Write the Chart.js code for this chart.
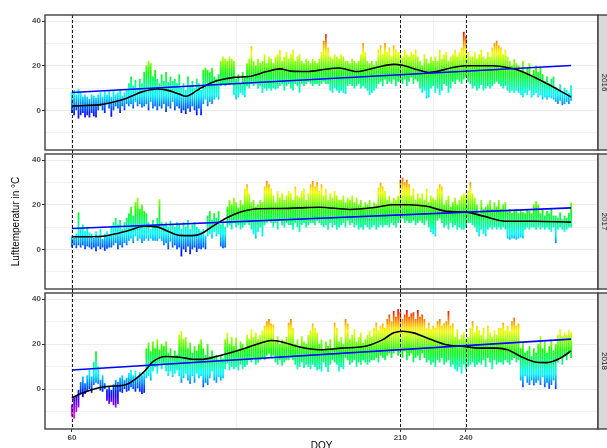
<!DOCTYPE html>
<html><head><meta charset="utf-8">
<script src="https://cdn.jsdelivr.net/npm/chart.js@4"></script>
<style>
html,body{margin:0;padding:0;width:607px;height:448px;overflow:hidden;background:#fff;}
canvas.p{position:absolute;left:0;}
</style></head><body>
<canvas id="c1" class="p" width="607" height="160" style="top:0px;width:607px;height:160px"></canvas>
<canvas id="c2" class="p" width="607" height="155" style="top:144px;width:607px;height:155px"></canvas>
<canvas id="c3" class="p" width="607" height="169" style="top:283px;width:607px;height:169px"></canvas>
<script>
// ---- categories: day of year ----
const doy = [60,61,62,63,64,65,66,67,68,69,70,71,72,73,74,75,76,77,78,79,80,81,82,83,84,85,86,87,88,89,90,91,92,93,94,95,96,97,98,99,100,101,102,103,104,105,106,107,108,109,110,111,112,113,114,115,116,117,118,119,120,121,122,123,124,125,126,127,128,129,130,131,132,133,134,135,136,137,138,139,140,141,142,143,144,145,146,147,148,149,150,151,152,153,154,155,156,157,158,159,160,161,162,163,164,165,166,167,168,169,170,171,172,173,174,175,176,177,178,179,180,181,182,183,184,185,186,187,188,189,190,191,192,193,194,195,196,197,198,199,200,201,202,203,204,205,206,207,208,209,210,211,212,213,214,215,216,217,218,219,220,221,222,223,224,225,226,227,228,229,230,231,232,233,234,235,236,237,238,239,240,241,242,243,244,245,246,247,248,249,250,251,252,253,254,255,256,257,258,259,260,261,262,263,264,265,266,267,268,269,270,271,272,273,274,275,276,277,278,279,280,281,282,283,284,285,286,287,288];

// ---- 2016 daily range (°C) ----
const tmax2016 = [8,9,7,9.5,8,6,7, 6,5,7,6.5,5.5,7, 8,6,9,7,8.5,6,9,7,8,9.5,6.5,8,9, 12,15,11,13.5,10,14,12, 17,20,22,21,15,18, 14,12,16,13,17,12.5,15,13,14,12,16, 10,12,9,15,11,13,10,14,12, 9,18,19, 18,17,19, 15,14,16, 22,24,23,22,24,23,22, 14,16,12,17,15, 21,23,28.5,22,20,23,21, 22,25,21,24,23,21,24, 25,27,22,24,26,23,25,27,22,24,25, 22,21,23,22,21,23,22,21,23, 26,31,34,28, 24,23,25,24,23,25,24,22, 22,21,23,22,21,22, 25,30,26, 22,21,22,20,22, 27,29,25,30,26,28,24,29,27,26, 26,24,27,25,24,26,25,27,24, 22,20,25,23,21,24,22, 24,22,27,23,25,26,22,24, 25,27,24,26,28, 35,33,26,24, 24,26,23,25,27,24,23,26,24, 28,30,31,29,28,25,27, 24,22,20,23,21, 20,18,22,17,19,21,16,18,20,17,19, 16,13,15,12,14,15, 10,9,11.5,8,10,9,7.7,11];
const tmin2016 = [-1,-2,0,-3.5,-2,-1,-3, -2,-3,-1,-2.5,-3,0, 2,0,-1,3,1,-2.7,0,2,1,-1,2,0,3, 2,3,1,4,2,3,1.5, 2,3,0,4,1,2, 0,2,1,3,-0.5,2,1,4,0,2,1, -1,0,-1.5,1,-0.5,2,0,-2,1, -2,3,5, 2,4,3, 5,6,5, 11,12,11,12,11.5,12,7, 5,6,8,7,6, 11,10,12,11,12,10,11, 8,10,9,10,9,10,9.5, 10,11,12,9,11,12,10,9,12,11,8, 12,11,12,13,12,11,12,12,11, 12,13,12,12, 9,8,10,9,8,9,8,7.5, 11,12,11,10,11,12, 10,11,10, 9,7,8,9,10, 12,13,11,14,12,13,12,14,11,13, 13,12,14,11,13,15,12,14,13, 10,8,9,5.5,6,10,11, 8,10,7,9,12,11,8,10, 13,12,14,13,12, 14,15,13,12, 10,11,9,10,11.5,9,10,11,10, 11,12,13,12,11,10,11, 9,8,9,8,9, 8,7,6,8,7,9,6,7,8,6,7, 5,6,5,6,5.5,5, 4,3,4.5,2.5,3,4,3,4.5];

// ---- 2017 daily range (°C) ----
const tmax2017 = [6,5,7, 16.4, 9,11,8,10,7.5, 7,5,8,6,9,4.5,7,8,6, 10,12,14,11,13,9,12,14, 16,19,15,21,23,18,20,17,16, 12,9,13,11, 14,22.3,12, 11,12,10,12.6,11,10,12,11, 9,12,10,13,9,11,12,10,9, 8,9,6, 15,17,13,16,14,17, 11,12,10, 19,22,20,23,21,18.6,22,20, 27,29,25, 21,22,19,20,22,21, 28,30.5,29,27, 24,21,26,23,25,22,24,26, 25,22,28,24,23,26,27,22,25, 29,30.5,28,30,26,29, 24,27,22,25,23,26,24,22, 22,24,21,23,22,24,21,23, 20,22,19,21,20,22,19,21,20, 27.5,29.7,28,26, 22,24,21,23,22,24, 31,32,30,31,29, 24,27,22,25,23, 25,22,27,21,24,23,22, 27,29,28, 20,22,24,19,21,23,20,22, 24,25,24, 26,30,25,23, 20,16,22,18,19, 20,22,18,21,19,22,18,20,21, 17,18,16,17,18,16,17,16.5, 16,17.8,17,16, 20,21.5,20, 16,18,15,17,16,18,15, 15,14,16.4,13.4,15,14,16,20.8];
const tmin2017 = [1,2,0.7, 2, 1,2,0,1.5,1, 0,1,-0.7,1.5,0,1,-0.5,0.5,1, 1,2,3,0,2,1,3,2, 4,5,3,6,4,5,3,4,5, 4,5,4,4, 4,5,4, 2,3,0,3.7,1,2,0,1, -3,0,-1,1.5,-2,0,1,-1,0.5, 0,1,0, 6,7,5,8,6,7, 1.5,0.7,1, 10,11,9,12,10,11,9,10, 11,12,11, 9,7,5,8,10,6, 11,12,13,12, 10,12,9,13,11,10,12,11, 11,9,12,10,8,11,12,10,11, 12,12,11,13,12,11, 10,11,9,12,10,11,9,10, 11,12,10,13,11,12,10,11, 9,10,9,11,10,9,10,11,9, 10,11,10,11, 11,10,12,11,10,12, 13,14,12,13,12, 12,13,11,12,13, 12,11,13,10,8,7,6, 13,14,12, 10,11,9,12,10,11,9,10, 9,9,10, 12,12,11,10, 8,6,9,7,6, 9,10,9,10,9,10,9,10,9, 5,4.5,5,5,4.5,5,5.5,5, 9,10,9,10, 10,9,10, 9,10,9,10,9,8,10, 3,9,10,9,8,9,10,10];

// ---- 2018 daily range (°C) ----
const tmax2018 = [-7,-4,-3,-0.5, 3,5.5,2.5, 6,8.5,5.5, 12,16.7,10, 4,6,2.5, 0,1,-0.5, 2,4,3, 5,6,4,5, 7,8.5,6,8,5,7.5, 6,7, 18,20.5,16.7, 21,18,22,17.5,20,19,21, 16,18,14.5,17,15, 24,25.7,22,23, 18,20.5,16,19,17,20, 22,18,15,20,14.5,17, 14,15,13,14.5,13.5, 22,25,20,23, 19,22.7,17.5,21,20,18, 24,22,26.4,23,25,22,24,26, 28,30,31,29,28.5, 21,23.4,20,22,21,23, 29.4,31,27, 20,22,19,23.4,21,20, 24,26,29,27,25, 20,22,17.5,21,19,22,18, 29.4,27, 21,23,20, 31,29, 22,24,26.4,21,23,25,20.4,22,24,26,23, 27,29.4,26,28,29,27, 31,33,30, 34.6,32,35.4,34,31,33,35,32,33.5,34,31,35,32,33,31, 27,29.4,26.4,28,27, 30,31,28, 29,30,34.6,28,29, 23,26.4,22,24,25,22,23, 27,30,25,28,26, 24,27,22,28,25,23,26,24,27, 27,29.4,26,28,25.7, 30,31.6,28,29, 18,20.4,16, 17,19,14.5,18,16, 20,23.4,18,21,16,19,22,17,20, 24,26.4,23.4,25,24,26,25];
const tmin2018 = [-12,-13,-10,-8, -2,-3.4,-2, -1,0,-1.5, 2,3,2.5, -0.5,-1,0, -5,-6.4,-5.5, -7,-8,-6.5, -1,-1.5,0,-1, -0.5,1,0,-1,0.5,-1, -2,-1.5, 5,6,4, 8,10,7,11.5,9,11,8, 6,8,5.5,7,8.5, 6,3,5,7, 4,2.5,6,3,7,5, 6,1,3,2,5,8, 4,3,5.5,4,5, 9,11.5,8.5,10, 9,10,8.5,11,9,10, 11,13,12,14,11,12,13,14, 13,15,16,14,15, 12,11,13,10.5,12,13, 13,14,13, 11,9,10,12,9.5,11, 10,9,11,10,8.5, 9,8,12,10,7.8,11,13, 12,11, 8,10,9, 14,13, 11,12,13,10,12,11,13,12,11,12,13, 13,14,12,15,14,13, 15,16,14, 16,17.5,15,16,14,17,13,15,16,12,14,15,13,16,14, 12,13,11,12,10, 13,12,14, 11,12,13,10,11, 9,8,10,7,11,9,10, 11,12,10,11,12, 11,13,10,14,12,9,13,11,12, 12,11,13,12,11, 13,14,12,13, 4,1,6, 3,2,4,1.8,3, 4,2,5.5,1,3,0.3,2,4,0, 12,14,11,15,13,16,14];

// ---- smoothed trend (black) ----
const smoothDoy2016 = [60,66,73,79,85,92,99,103,109,112,118,124,128,134,141,149,155,160,168,175,182,190,199,207,211,218,223,227,233,240,252,260,264,271,278,288];
const smooth2016    = [2,2.2,2.6,3.8,5.5,8.3,9.6,9.2,7.3,6.3,9.5,12.5,13.7,14.8,15.2,17.4,18.6,17.6,17.4,18.3,19,17.4,19.2,20.6,20.2,18.2,17,17.5,19,20,20,19,18,15,11.5,6];
const smoothDoy2017 = [60,73,80,86,93,99,103,109,115,119,123,128,134,140,145,155,164,173,187,199,207,214,222,231,240,248,258,271,288];
const smooth2017    = [5.7,5.8,7,8.5,10.4,10.1,8.5,6.3,6.2,7,9.5,12.6,15.6,17.5,18.2,18.3,18.6,18.9,17.9,18.9,20,20,19.3,17.1,16.7,14.9,12.6,12.6,12.2];
const smoothDoy2018 = [60,64,71,77,82,86,89,93,97,103,109,115,119,126,137,146,151,155,164,173,183,195,202,207,211,216,224,231,239,246,254,259,265,271,277,283,288];
const smooth2018    = [-3.9,-2,0.3,1.3,1.5,2.5,4.5,7.8,12.2,14.5,14.2,13.3,13.2,14.5,17.5,20.4,21.6,21.2,18.7,17.5,18.2,19.3,22,25,25.7,25,22,19.7,19,18.2,18.2,17.5,14.5,12.2,11.8,13.7,17];

// ---- linear trend (blue) ----
const lmDoy  = [60, 288];
const lm2016 = [8.0, 20.1];
const lm2017 = [9.4, 18.6];
const lm2018 = [8.5, 22.2];

// ---- facets, reference lines, ticks ----
const years  = ['2016', '2017', '2018'];
const vlines = [60, 210, 240];
const xMajor = [60, 210, 240];
const xMinor = [135, 225];
const yMajor = [0, 20, 40];
const yMinor = [-10, 10, 30];
const colorMin = -13, colorMax = 35.4;

[[tmax2016,tmin2016],[tmax2017,tmin2017],[tmax2018,tmin2018]].forEach((p,i)=>{
  if (p[0].length !== doy.length || p[1].length !== doy.length) throw new Error('len mismatch '+i+' '+p[0].length+' '+p[1].length);
});
if (smoothDoy2016.length!==smooth2016.length||smoothDoy2017.length!==smooth2017.length||smoothDoy2018.length!==smooth2018.length) throw new Error('smooth len');

const FONT = "'Liberation Sans', Arial, sans-serif";
const xTicksAll = xMajor.concat(xMinor).sort((a,b)=>a-b);
const yTicksAll = yMajor.concat(yMinor).sort((a,b)=>a-b);

function rainbowGradient(chart) {
  const ca = chart.chartArea; if (!ca || !chart.scales.y) return null;
  const key = ca.top + '_' + ca.bottom;
  if (chart.$gk === key) return chart.$grad;
  const ys = chart.scales.y;
  const y0 = ys.getPixelForValue(colorMax), y1 = ys.getPixelForValue(colorMin);
  const g = chart.ctx.createLinearGradient(0, y0, 0, y1);
  for (let i = 0; i <= 24; i++) { const f = i / 24; g.addColorStop(f, 'hsl(' + (310 * f) + ',100%,50%)'); }
  chart.$gk = key; chart.$grad = g; return g;
}

const panelDeco = {
  id: 'panelDeco',
  afterDatasetsDraw(chart, args, opts) {
    const {ctx, chartArea: a, scales: {x}} = chart;
    ctx.save();
    // dashed reference lines
    ctx.strokeStyle = '#1a1a1a'; ctx.lineWidth = 1; ctx.setLineDash([3, 2]);
    const t = a.top - (opts.extTop ? 4 : 0), b = a.bottom + (opts.extBottom ? 4 : 0);
    vlines.forEach(v => {
      const px = Math.round(x.getPixelForValue(v)) + 0.5;
      ctx.beginPath(); ctx.moveTo(px, t); ctx.lineTo(px, b); ctx.stroke();
    });
    ctx.setLineDash([]);
    // panel border
    ctx.strokeStyle = '#404040'; ctx.lineWidth = 1.4;
    ctx.strokeRect(a.left, a.top, a.right - a.left, a.bottom - a.top);
    // facet strip
    ctx.fillStyle = '#D9D9D9';
    ctx.fillRect(a.right, a.top, 20, a.bottom - a.top);
    ctx.strokeRect(a.right, a.top, 20, a.bottom - a.top);
    ctx.translate(a.right + 6.5, (a.top + a.bottom) / 2);
    ctx.rotate(Math.PI / 2);
    ctx.fillStyle = '#1A1A1A'; ctx.font = '8px ' + FONT;
    ctx.textAlign = 'center'; ctx.textBaseline = 'middle';
    ctx.fillText(opts.label, 0, 0);
    ctx.restore();
  }
};

function makePanel(id, idx, tmax, tmin, sDoy, sVal, lmVal, cfg) {
  const bars = doy.map((d, i) => ({x: d, y: [tmin[i], tmax[i]]}));
  const smooth = sDoy.map((d, i) => ({x: d, y: sVal[i]}));
  const lm = lmDoy.map((d, i) => ({x: d, y: lmVal[i]}));
  return new Chart(document.getElementById(id), {
    type: 'bar',
    data: {datasets: [
      {type: 'bar', data: bars, backgroundColor: c => rainbowGradient(c.chart) || 'rgba(0,0,0,0)', barThickness: 1.1, borderWidth: 0, grouped: false, order: 3},
      {type: 'line', data: smooth, borderColor: '#000000', borderWidth: 1.6, pointRadius: 0, cubicInterpolationMode: 'monotone', fill: false, order: 2},
      {type: 'line', data: lm, borderColor: '#0000FF', borderWidth: 1.6, pointRadius: 0, fill: false, order: 1}
    ]},
    options: {
      responsive: false, animation: false, events: [],
      layout: {padding: {top: cfg.padTop, bottom: cfg.padBottom, left: 0, right: 9}},
      plugins: {legend: {display: false}, tooltip: {enabled: false},
        panelDeco: {label: years[idx], extTop: cfg.extTop, extBottom: cfg.extBottom}},
      scales: {
        x: {type: 'linear', min: 47.7, max: 300.3, offset: false,
          afterBuildTicks: ax => { ax.ticks = xTicksAll.map(v => ({value: v})); },
          afterFit: ax => { ax.height = cfg.xHeight; },
          grid: {offset: false, color: c => xMajor.includes(c.tick.value) ? '#EBEBEB' : '#F1F1F1', lineWidth: 1,
                 drawTicks: cfg.showX, tickLength: 3,
                 tickColor: c => xMajor.includes(c.tick.value) ? '#333333' : 'rgba(0,0,0,0)'},
          border: {display: false},
          ticks: {display: cfg.showX, autoSkip: false, maxRotation: 0, padding: 1, color: '#4D4D4D',
                  font: {family: FONT, size: 8, weight: 'bold'}, callback: v => xMajor.includes(v) ? String(v) : ''},
          title: {display: cfg.showX, text: 'DOY', color: '#000000', font: {family: FONT, size: 10}, padding: 0}
        },
        y: {type: 'linear', min: -17.7, max: 42.7,
          afterBuildTicks: ax => { ax.ticks = yTicksAll.map(v => ({value: v})); },
          afterFit: ax => { ax.width = 45; },
          grid: {color: c => yMajor.includes(c.tick.value) ? '#EBEBEB' : '#F1F1F1', lineWidth: 1, tickLength: 3,
                 tickColor: c => yMajor.includes(c.tick.value) ? '#333333' : 'rgba(0,0,0,0)'},
          border: {display: false},
          ticks: {autoSkip: false, padding: 1, color: '#4D4D4D', font: {family: FONT, size: 8, weight: 'bold'},
                  callback: v => yMajor.includes(v) ? String(v) : ''},
          title: {display: cfg.showYTitle, text: 'Lufttemperatur in °C', color: '#000000',
                  font: {family: FONT, size: 10}, padding: {top: 10, bottom: 0}}
        }
      }
    },
    plugins: [panelDeco]
  });
}

makePanel('c1', 0, tmax2016, tmin2016, smoothDoy2016, smooth2016, lm2016,
  {padTop: 15, padBottom: 10, xHeight: 0, showX: false, showYTitle: false, extTop: false, extBottom: true});
makePanel('c2', 1, tmax2017, tmin2017, smoothDoy2017, smooth2017, lm2017,
  {padTop: 10, padBottom: 10, xHeight: 0, showX: false, showYTitle: true, extTop: true, extBottom: true});
makePanel('c3', 2, tmax2018, tmin2018, smoothDoy2018, smooth2018, lm2018,
  {padTop: 10, padBottom: 0, xHeight: 23, showX: true, showYTitle: false, extTop: true, extBottom: false});
</script>
</body></html>
